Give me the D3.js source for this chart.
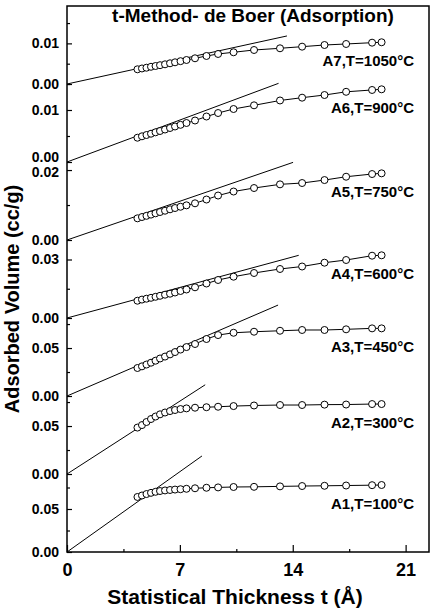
<!DOCTYPE html>
<html>
<head>
<meta charset="utf-8">
<script src="https://cdn.jsdelivr.net/npm/d3@7"></script>
<style>
  body { margin: 0; background: #fff; }
  text { font-family: "Liberation Sans", Arial, sans-serif; font-weight: bold; fill: #000; }
</style>
</head>
<body>
<div id="chart"></div>
<script>
// statistical thickness t (Å), shared by all samples
var thickness = [4.37, 4.65, 4.93, 5.21, 5.49, 5.77, 6.08, 6.39, 6.70, 7.04, 7.41,
  7.94, 8.65, 9.37, 10.33, 11.60, 13.21, 14.58, 15.97, 17.31, 18.92, 19.51];

// adsorbed volume (cc/g) per sample
var a1 = [0.0640, 0.0657, 0.0674, 0.0688, 0.0700, 0.0709, 0.0716, 0.0721, 0.0726, 0.0730, 0.0735,
  0.0741, 0.0747, 0.0751, 0.0756, 0.0758, 0.0763, 0.0767, 0.0770, 0.0773, 0.0777, 0.0779];
var a2 = [0.0484, 0.0510, 0.0542, 0.0573, 0.0599, 0.0622, 0.0641, 0.0656, 0.0667, 0.0677, 0.0684,
  0.0691, 0.0696, 0.0701, 0.0708, 0.0714, 0.0719, 0.0719, 0.0723, 0.0724, 0.0729, 0.0729];
var a3 = [0.0292, 0.0309, 0.0328, 0.0347, 0.0368, 0.0391, 0.0411, 0.0434, 0.0458, 0.0484, 0.0510,
  0.0542, 0.0594, 0.0635, 0.0659, 0.0670, 0.0680, 0.0688, 0.0688, 0.0695, 0.0705, 0.0705];
var a4 = [0.00887, 0.00944, 0.00990, 0.01036, 0.01087, 0.01138, 0.01195, 0.01246, 0.01308, 0.01385, 0.01462,
  0.01574, 0.01769, 0.01949, 0.02118, 0.02308, 0.02513, 0.02641, 0.02836, 0.02974, 0.03195, 0.03215];
var a5 = [0.00620, 0.00657, 0.00691, 0.00726, 0.00763, 0.00800, 0.00837, 0.00877, 0.00914, 0.00951, 0.00991,
  0.01049, 0.01157, 0.01271, 0.01386, 0.01486, 0.01591, 0.01629, 0.01714, 0.01809, 0.01886, 0.01906];
var a6 = [0.00467, 0.00494, 0.00519, 0.00544, 0.00571, 0.00596, 0.00625, 0.00654, 0.00683, 0.00715, 0.00750,
  0.00798, 0.00875, 0.00942, 0.01019, 0.01090, 0.01183, 0.01237, 0.01288, 0.01350, 0.01385, 0.01398];
var a7 = [0.00362, 0.00382, 0.00401, 0.00424, 0.00443, 0.00463, 0.00485, 0.00510, 0.00534, 0.00562, 0.00591,
  0.00633, 0.00690, 0.00739, 0.00781, 0.00837, 0.00879, 0.00919, 0.00960, 0.00985, 0.01017, 0.01027];

var labels = ["A1,T=100°C", "A2,T=300°C", "A3,T=450°C", "A4,T=600°C", "A5,T=750°C", "A6,T=900°C", "A7,T=1050°C"];

// t-plot fit lines (through origin): slope and end of drawn segment
var fitSlope = [0.01334, 0.01085, 0.00724, 0.002237, 0.001583, 0.001153, 0.000867];
var fitEnd = [8.37, 8.57, 13.09, 14.37, 14.02, 13.12, 13.64];

// axis setup per panel
var yMax = [0.0907, 0.0813, 0.0813, 0.040, 0.0223, 0.015, 0.0192];
var yMajor = [[0, 0.05], [0, 0.05], [0, 0.05], [0, 0.03], [0, 0.02], [0, 0.01], [0, 0.01]];
var yMinor = [[0.025, 0.075], [0.025, 0.075], [0.025, 0.075], [0.015], [0.01], [0.005, 0.015], [0.005, 0.015]];
var xMajor = [0, 7, 14, 21];
var xMinor = [3.5, 10.5, 17.5];

var series = [a1, a2, a3, a4, a5, a6, a7];

var width = 436, height = 610;
var margin = { top: 6, right: 7, bottom: 58, left: 67 };
var w = width - margin.left - margin.right;
var h = height - margin.top - margin.bottom;

var svg = d3.select("#chart").append("svg")
  .attr("width", width)
  .attr("height", height);

var g = svg.append("g")
  .attr("transform", "translate(" + margin.left + "," + margin.top + ")");

var x = d3.scaleLinear().domain([0, 22.45]).range([0, w]);

// panels stacked: A1 at bottom
var band = d3.scaleBand()
  .domain(d3.range(7).reverse())
  .range([0, h])
  .paddingInner(0);

var yScales = series.map(function(s, i) {
  return d3.scaleLinear()
    .domain([0, yMax[i]])
    .range([band(i) + band.bandwidth(), band(i)]);
});

// frame
g.append("rect")
  .attr("width", w)
  .attr("height", h)
  .attr("fill", "none")
  .attr("stroke", "#000")
  .attr("stroke-width", 1.5);

// y axes per panel
var labelSel = [];
series.forEach(function(s, i) {
  var y = yScales[i];
  var major = g.append("g")
    .call(d3.axisLeft(y).tickValues(yMajor[i]).tickSize(-5).tickPadding(8)
      .tickFormat(d3.format(".2f")));
  major.select(".domain").remove();
  major.selectAll("text").style("font-size", "14px");
  major.selectAll("line").attr("stroke-width", 1.2);
  labelSel.push(major);

  var minor = g.append("g")
    .call(d3.axisLeft(y).tickValues(yMinor[i]).tickSize(-3).tickFormat(""));
  minor.select(".domain").remove();
  minor.selectAll("line").attr("stroke-width", 1.2);
});

// keep stacked "0.00" labels from colliding with the panel below
for (var i = 1; i < 7; i++) {
  var zeroY = yScales[i](0);
  var topVal = yMajor[i - 1][yMajor[i - 1].length - 1];
  var belowY = yScales[i - 1](topVal);
  var gap = belowY - zeroY;
  if (gap < 15) {
    labelSel[i].selectAll(".tick")
      .filter(function(d) { return d === 0; })
      .select("text")
      .attr("dy", (0.32 * 14 - (15 - gap) * 0.65) + "px");
    labelSel[i - 1].selectAll(".tick")
      .filter(function(d) { return d === topVal; })
      .select("text")
      .attr("dy", (0.32 * 14 + (15 - gap) * 0.35) + "px");
  }
}

// x axis
var xa = g.append("g")
  .attr("transform", "translate(0," + h + ")")
  .call(d3.axisBottom(x).tickValues(xMajor).tickSize(-7).tickPadding(11));
xa.select(".domain").remove();
xa.selectAll("text").style("font-size", "18px");
xa.selectAll("line").attr("stroke-width", 1.2);

var xm = g.append("g")
  .attr("transform", "translate(0," + h + ")")
  .call(d3.axisBottom(x).tickValues(xMinor).tickSize(-3).tickFormat(""));
xm.select(".domain").remove();
xm.selectAll("line").attr("stroke-width", 1.2);

// fit lines
series.forEach(function(s, i) {
  var y = yScales[i];
  g.append("line")
    .attr("x1", x(0))
    .attr("y1", y(0))
    .attr("x2", x(fitEnd[i]))
    .attr("y2", y(fitSlope[i] * fitEnd[i]))
    .attr("stroke", "#000")
    .attr("stroke-width", 1);
});

// data: connecting line + open circles
var line = d3.line();
series.forEach(function(s, i) {
  var y = yScales[i];
  var pts = s.map(function(v, j) { return [x(thickness[j]), y(v)]; });

  g.append("path")
    .attr("d", line(pts))
    .attr("fill", "none")
    .attr("stroke", "#000")
    .attr("stroke-width", 1);

  g.selectAll(null)
    .data(pts)
    .enter()
    .append("circle")
    .attr("cx", function(d) { return d[0]; })
    .attr("cy", function(d) { return d[1]; })
    .attr("r", 3.5)
    .attr("fill", "#fff")
    .attr("stroke", "#000")
    .attr("stroke-width", 1);

  g.append("text")
    .attr("x", 347)
    .attr("y", pts[pts.length - 1][1] + 24)
    .attr("text-anchor", "end")
    .style("font-size", "15px")
    .text(labels[i]);
});

// titles
svg.append("text")
  .attr("x", 253)
  .attr("y", 22)
  .attr("text-anchor", "middle")
  .style("font-size", "19px")
  .text("t-Method- de Boer (Adsorption)");

svg.append("text")
  .attr("x", 235)
  .attr("y", 604)
  .attr("text-anchor", "middle")
  .style("font-size", "21px")
  .text("Statistical Thickness t (Å)");

svg.append("text")
  .attr("transform", "translate(19,299) rotate(-90)")
  .attr("text-anchor", "middle")
  .style("font-size", "20px")
  .text("Adsorbed Volume (cc/g)");
</script>
</body>
</html>
